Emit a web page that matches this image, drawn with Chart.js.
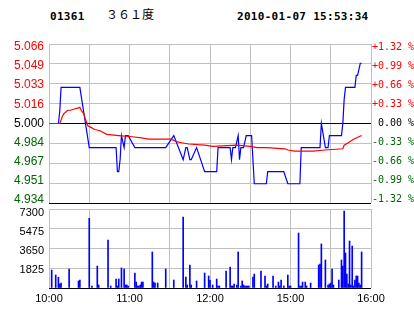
<!DOCTYPE html>
<html>
<head>
<meta charset="utf-8">
<script src="https://cdn.jsdelivr.net/npm/chart.js@4.4.1/dist/chart.umd.min.js"></script>
<style>
  body { margin: 0; background: #fff; width: 414px; height: 314px; overflow: hidden; position: relative; }
  .hd { position: absolute; white-space: pre; color: #000; }
  .mono { font: bold 11px "DejaVu Sans Mono", monospace; letter-spacing: 0.3px; line-height: 11px; top: 11px; }
  .box { position: absolute; left: 0; width: 414px; }
</style>
</head>
<body>
<div class="hd mono" style="left:50px">01361</div>
<div class="hd" style="left:106px; top:8px; font: 12px 'Noto Sans CJK SC'; line-height: 12px">３６１度</div>
<div class="hd mono" style="left:237px">2010-01-07 15:53:34</div>
<div class="box" style="top:0; height:210px"><canvas id="priceChart"></canvas></div>
<div class="box" style="top:200px; height:114px"><canvas id="volChart"></canvas></div>
<script>
// minutes since 10:00 on the trading clock (12:00 -> 120, 15:00 -> 180, 16:00 -> 240)
const priceMinutes = [2, 7, 8, 9, 23, 30, 50, 51, 52, 53, 54, 56, 57, 59, 64, 87, 93, 100, 102, 103,
  105, 106, 110, 116, 125, 126, 135, 136, 137, 139, 141, 142, 143, 145, 147, 151, 152, 153, 162, 163,
  175, 178, 187, 188, 202, 203, 206, 208, 209, 218, 219, 220, 221, 228, 229, 230, 232, 233];
const priceValues = [5.00, 5.00, 5.01, 5.03, 5.03, 4.98, 4.98, 4.96, 4.96, 4.97, 4.99, 4.98, 4.99, 4.99, 4.98, 4.98, 4.99, 4.97, 4.98, 4.98,
  4.97, 4.97, 4.98, 4.96, 4.96, 4.98, 4.98, 4.97, 4.98, 4.98, 4.99, 4.97, 4.98, 4.98, 4.99, 4.99, 4.97, 4.95, 4.95, 4.96,
  4.96, 4.95, 4.95, 4.98, 4.98, 5.00, 4.98, 4.98, 4.99, 4.99, 5.00, 5.02, 5.03, 5.03, 5.04, 5.04, 5.05, 5.05];

const avgMinutes = [0, 8, 9, 10, 11, 13, 14, 16, 19, 22, 23, 24, 26, 27, 28, 29, 31, 34, 38, 43,
  52, 62, 69, 74, 91, 95, 99, 104, 116, 122, 140, 150, 155, 162, 176, 178, 183, 197, 206, 219,
  220, 223, 227, 229, 231, 233];
const avgValues = [5.000, 5.000, 5.003, 5.006, 5.008, 5.010, 5.011, 5.011, 5.012, 5.013, 5.0135, 5.011, 5.008, 5.004, 5.001, 4.998, 4.997, 4.995, 4.994, 4.991,
  4.990, 4.989, 4.988, 4.987, 4.987, 4.985, 4.984, 4.983, 4.982, 4.981, 4.982, 4.981, 4.980, 4.980, 4.979, 4.978, 4.977, 4.977, 4.978, 4.979,
  4.982, 4.984, 4.987, 4.988, 4.989, 4.990];

const volMinutes = [2, 5, 7, 8, 9, 15, 22, 23, 30, 32,
  36, 37, 44, 46, 50, 51, 52, 54, 56, 57,
  58, 59, 64, 65, 66, 67, 68, 69, 70, 77,
  78, 79, 81, 87, 93, 100, 102, 103, 105, 106,
  110, 116, 119, 120, 122, 125, 126, 127, 132, 135,
  136, 137, 138, 140, 141, 143, 144, 145, 146, 147,
  148, 149, 152, 153, 158, 161, 162, 163, 167, 169,
  171, 172, 173, 175, 178, 179, 180, 186, 187, 188,
  189, 191, 192, 195, 201, 202, 203, 206, 208, 209,
  210, 211, 212, 216, 218, 219, 220, 221, 222, 223,
  224, 225, 226, 227, 228, 229, 230, 231, 232, 233];
const volValues = [1660, 1200, 990, 370, 460, 1750, 650, 740, 6440, 185,
  2030, 280, 4430, 185, 830, 185, 830, 1850, 1750, 280,
  280, 185, 1385, 550, 185, 185, 280, 550, 550, 3330,
  550, 460, 460, 1750, 740, 6560, 1015, 280, 2125, 280,
  650, 1385, 1110, 700, 280, 830, 185, 185, 1570, 1940,
  185, 185, 370, 280, 3330, 185, 650, 280, 185, 185,
  185, 185, 1015, 1290, 1570, 1110, 185, 370, 1110, 185,
  550, 185, 740, 185, 1200, 185, 185, 5080, 185, 185,
  550, 550, 185, 460, 2125, 2220, 4070, 2590, 280, 370,
  460, 1750, 280, 740, 2590, 2030, 7115, 3235, 1290, 370,
  4340, 280, 3880, 185, 740, 1110, 1110, 460, 280, 3330];

const timeTicks = [0, 30, 60, 90, 120, 150, 180, 210, 240];
const timeLabels = ['10:00', '', '11:00', '', '12:00', '', '15:00', '', '16:00'];
const priceTicks = [4.934, 4.9505, 4.967, 4.9835, 5.000, 5.0165, 5.033, 5.0495, 5.066];
const priceLabels = ['4.934', '4.951', '4.967', '4.984', '5.000', '5.016', '5.033', '5.049', '5.066'];
const pctLabels = ['-1.32 %', '-0.99 %', '-0.66 %', '-0.33 %', ' 0.00 %', '+0.33 %', '+0.66 %', '+0.99 %', '+1.32 %'];
const volTicks = [0, 1825, 3650, 5475, 7300];
const volLabels = ['', '1825', '3650', '5475', '7300'];

const UP = '#ff0000', DOWN = '#006600', GRID = '#c0c0c0';
const sideColor = i => i > 4 ? UP : i < 4 ? DOWN : '#000';
const setTicks = vals => s => { s.ticks = vals.map(v => ({ value: v })); };
const noPad = s => { s.paddingTop = s.paddingBottom = s.paddingLeft = s.paddingRight = 0; };
const fixW = w => s => { s.width = w; noPad(s); };
const fixH = h => s => { s.height = h; noPad(s); };

Chart.defaults.animation = false;
Chart.defaults.events = [];
Chart.defaults.plugins.legend.display = false;
Chart.defaults.plugins.tooltip.enabled = false;

const xAxis = extra => Object.assign({
  type: 'linear', min: 0, max: 240, offset: false,
  afterBuildTicks: setTicks(timeTicks),
  grid: { color: GRID, drawTicks: false, offset: false },
  border: { display: false }
}, extra);

// price panel
new Chart(document.getElementById('priceChart'), {
  type: 'line',
  data: {
    datasets: [
      { data: avgMinutes.map((m, i) => ({ x: m, y: avgValues[i] })), borderColor: UP, borderWidth: 1.2, pointRadius: 0, yAxisID: 'y' },
      { data: priceMinutes.map((m, i) => ({ x: m, y: priceValues[i] })), borderColor: '#0000ff', borderWidth: 1.2, pointRadius: 0, yAxisID: 'y' }
    ]
  },
  options: {
    responsive: true, maintainAspectRatio: false,
    layout: { padding: { top: 44, bottom: 7, left: 0, right: 0 } },
    scales: {
      x: xAxis({ ticks: { display: false }, afterFit: fixH(0) }),
      y: {
        position: 'left', min: 4.934, max: 5.066,
        afterBuildTicks: setTicks(priceTicks),
        ticks: { display: false },
        grid: { drawTicks: false, color: c => (c.index === 0 || c.index === 4) ? '#000' : GRID },
        border: { display: false },
        afterFit: fixW(0)
      },
      // label scales are a little tighter than the grid, as in the source image
      yl: {
        position: 'left', min: 4.931, max: 5.0686,
        afterBuildTicks: setTicks(priceTicks),
        ticks: { callback: (v, i) => priceLabels[i], color: c => sideColor(c.index), padding: 5,
          font: { family: '"Liberation Sans", Arial, sans-serif', size: 12 } },
        grid: { display: false, drawTicks: false }, border: { display: false },
        afterFit: fixW(49)
      },
      yr: {
        position: 'right', min: 4.931, max: 5.0686,
        afterBuildTicks: setTicks(priceTicks),
        ticks: { callback: (v, i) => pctLabels[i], color: c => sideColor(c.index), padding: 1,
          font: { family: '"DejaVu Sans Mono", monospace', size: 10 } },
        grid: { display: false, drawTicks: false }, border: { display: false },
        afterFit: fixW(43)
      }
    }
  }
});

// volume panel
new Chart(document.getElementById('volChart'), {
  type: 'bar',
  data: {
    datasets: [{
      data: volMinutes.map((m, i) => ({ x: m, y: volValues[i] })),
      backgroundColor: '#0000ff', barThickness: 1, yAxisID: 'y'
    }]
  },
  options: {
    responsive: true, maintainAspectRatio: false,
    layout: { padding: { top: 9, bottom: 0, left: 0, right: 43 } },
    scales: {
      x: xAxis({
        ticks: { callback: (v, i) => timeLabels[i], autoSkip: false, maxRotation: 0, color: '#000', padding: 4,
          font: { family: '"Liberation Sans", Arial, sans-serif', size: 11 } },
        afterFit: fixH(26)
      }),
      y: {
        position: 'left', min: 0, max: 7300,
        afterBuildTicks: setTicks(volTicks),
        ticks: { display: false },
        grid: { drawTicks: false, color: c => c.index === 0 ? '#000' : GRID },
        border: { display: false },
        afterFit: fixW(0)
      },
      yl: {
        position: 'left', min: 125, max: 7713,
        afterBuildTicks: setTicks(volTicks.slice(1)),
        ticks: { callback: (v, i) => volLabels[i + 1], color: '#000', padding: 5,
          font: { family: '"Liberation Sans", Arial, sans-serif', size: 11 } },
        grid: { display: false, drawTicks: false }, border: { display: false },
        afterFit: fixW(49)
      }
    }
  }
});
</script>
</body>
</html>
